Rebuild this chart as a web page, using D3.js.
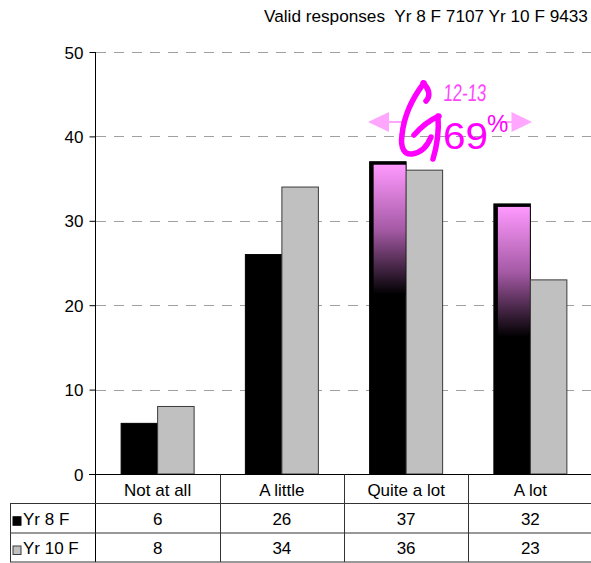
<!DOCTYPE html>
<html><head><meta charset="utf-8">
<script src="https://cdn.jsdelivr.net/npm/d3@7"></script>
<style>html,body{margin:0;padding:0;background:#fff;overflow:hidden}text{font-family:"Liberation Sans",Arial,sans-serif}</style>
</head><body>
<script>
const categories = ["Not at all", "A little", "Quite a lot", "A lot"];
const seriesNames = ["Yr 8 F", "Yr 10 F"];
const yr8 = [6, 26, 37, 32];
const yr10 = [8, 34, 36, 23];
const yTicks = [0, 10, 20, 30, 40, 50];
const highlighted = ["Quite a lot", "A lot"];
const titleText = "Valid responses  Yr 8 F 7107 Yr 10 F 9433";
const noteLetter = "G";
const noteYear = "12-13";
const notePct = "69";

const W = 591, H = 563;
const FS = 17;
const svg = d3.select("body").append("svg").attr("width", W).attr("height", H);
const defs = svg.append("defs");

const x = d3.scaleBand().domain(categories).range([95.5, 592.5]);
const y = d3.scaleLinear().domain([0, 50]).range([474, 52]);
const barW = 36.5;
const series = [yr8, yr10];
const fills = ["#000000", "#c0c0c0"];
const strokes = ["#000000", "#3a3a3a"];

// title
svg.append("text").attr("x", 264).attr("y", 22).attr("font-size", 17.2)
  .style("white-space", "pre").attr("xml:space", "preserve").text(titleText);

// gridlines
svg.append("g").selectAll("line").data(yTicks.filter(d => d > 0)).join("line")
  .attr("x1", 96).attr("x2", W).attr("y1", d => Math.round(y(d)) + 0.5).attr("y2", d => Math.round(y(d)) + 0.5)
  .attr("stroke", "#a0a0a0").attr("stroke-dasharray", "10,8");

// y axis
const yAxis = d3.axisLeft(y).tickValues(yTicks).tickSize(6).tickPadding(6).tickFormat(d3.format("d"));
const ag = svg.append("g").attr("transform", "translate(95.5,0)").call(yAxis);
ag.select(".domain").remove();
ag.selectAll("line").attr("stroke", "#000");
ag.selectAll("text").attr("font-size", FS).attr("font-family", "Liberation Sans, Arial, sans-serif").attr("fill", "#000").attr("dy", "0.36em");
svg.append("line").attr("x1", 95.5).attr("x2", 95.5).attr("y1", y(50)).attr("y2", 562).attr("stroke", "#000");

// bars
series.forEach((vals, si) => {
  svg.append("g").selectAll("rect").data(categories).join("rect")
    .attr("x", c => x(c) + x.bandwidth() / 2 - barW + si * barW)
    .attr("y", (c, i) => y(vals[i]))
    .attr("width", barW)
    .attr("height", (c, i) => y(0) - y(vals[i]))
    .attr("fill", fills[si]).attr("stroke", strokes[si]).attr("stroke-width", 1);
});

// pink gradient highlights on Yr 8 bars
const grad = defs.append("linearGradient").attr("id", "pinkfade").attr("x1", 0).attr("y1", 0).attr("x2", 0).attr("y2", 1);
grad.append("stop").attr("offset", 0).attr("stop-color", "#ff99ff");
grad.append("stop").attr("offset", 0.5).attr("stop-color", "#a55aa5");
grad.append("stop").attr("offset", 1).attr("stop-color", "#000000");
svg.append("g").selectAll("rect").data(highlighted).join("rect")
  .attr("x", c => x(c) + x.bandwidth() / 2 - barW + 4)
  .attr("y", c => y(yr8[categories.indexOf(c)]) + 3)
  .attr("width", barW - 4.5)
  .attr("height", 130)
  .attr("fill", "url(#pinkfade)");

// axis baseline
svg.append("line").attr("x1", 89).attr("x2", W).attr("y1", 474.5).attr("y2", 474.5).attr("stroke", "#000");

// data table
const rowY = [474.5, 503.5, 533, 562];
const tg = svg.append("g").attr("stroke", "#333").attr("stroke-width", 1);
[503.5, 533, 562].forEach(yy => tg.append("line").attr("x1", 10).attr("x2", W).attr("y1", yy).attr("y2", yy));
tg.append("line").attr("x1", 10.5).attr("x2", 10.5).attr("y1", 503.5).attr("y2", 562);
categories.slice(1).forEach(c => tg.append("line").attr("x1", Math.round(x(c)) + 0.5).attr("x2", Math.round(x(c)) + 0.5).attr("y1", 474.5).attr("y2", 562));

svg.append("g").selectAll("text").data(categories).join("text")
  .attr("x", c => x(c) + x.bandwidth() / 2).attr("y", (rowY[0] + rowY[1]) / 2 + 6.5)
  .attr("text-anchor", "middle").attr("font-size", FS).text(c => c);
series.forEach((vals, si) => {
  const cy = (rowY[si + 1] + rowY[si + 2]) / 2;
  svg.append("g").selectAll("text").data(categories).join("text")
    .attr("x", c => x(c) + x.bandwidth() / 2).attr("y", cy + 6.5)
    .attr("text-anchor", "middle").attr("font-size", FS).text((c, i) => vals[i]);
  svg.append("rect").attr("x", 13).attr("y", cy - 1.5).attr("width", 8).attr("height", 8.5)
    .attr("fill", fills[si]).attr("stroke", strokes[si]).attr("stroke-width", 1);
  svg.append("text").attr("x", 23).attr("y", cy + 6.5).attr("font-size", FS).text(seriesNames[si]);
});

// annotation
const note = svg.append("g");
const arrowCol = "#ffa6ff";
const ay = 122;
note.append("line").attr("x1", 385).attr("x2", 402).attr("y1", ay).attr("y2", ay).attr("stroke", arrowCol).attr("stroke-width", 2);
note.append("line").attr("x1", 500).attr("x2", 515).attr("y1", ay).attr("y2", ay).attr("stroke", arrowCol).attr("stroke-width", 2);
note.append("path").attr("d", `M368,${ay} L389,${ay - 10} L389,${ay + 10} Z`).attr("fill", arrowCol);
note.append("path").attr("d", `M532,${ay} L511.5,${ay - 10} L511.5,${ay + 10} Z`).attr("fill", arrowCol);
// handwritten G
note.append("path")
  .attr("d", "M423,83 C429,88 431,96 426,101 M424,83 C414,96 404,115 402,135 C400,149 405,155 412,154 C420,153 427,147 431,137 M414,135 C421,127 430,120 439,116 M438,116 C439,130 437,146 433,159")
  .attr("fill", "none").attr("stroke", "#ff00ff").attr("stroke-width", 5.5).attr("stroke-linecap", "round").attr("stroke-linejoin", "round");
note.append("text").attr("aria-label", noteLetter).attr("x", 0).attr("y", 0).attr("font-size", 1).attr("fill", "none").text(noteLetter);
note.append("text").attr("x", 443).attr("y", 101).attr("font-size", 24).attr("fill", "#ff44ff")
  .attr("font-family", "Liberation Sans Narrow, Liberation Sans, sans-serif").attr("font-weight", 300)
  .attr("textLength", 43).attr("lengthAdjust", "spacingAndGlyphs").attr("transform", "skewX(-4) translate(7,0)").text(noteYear);
note.append("text").attr("x", 443).attr("y", 149).attr("font-size", 36).attr("fill", "#ff00ff")
  .attr("textLength", 45).attr("lengthAdjust", "spacingAndGlyphs").text(notePct);
note.append("text").attr("x", 487).attr("y", 132).attr("font-size", 24).attr("fill", "#ff00ff").text("%");
</script>
</body></html>
